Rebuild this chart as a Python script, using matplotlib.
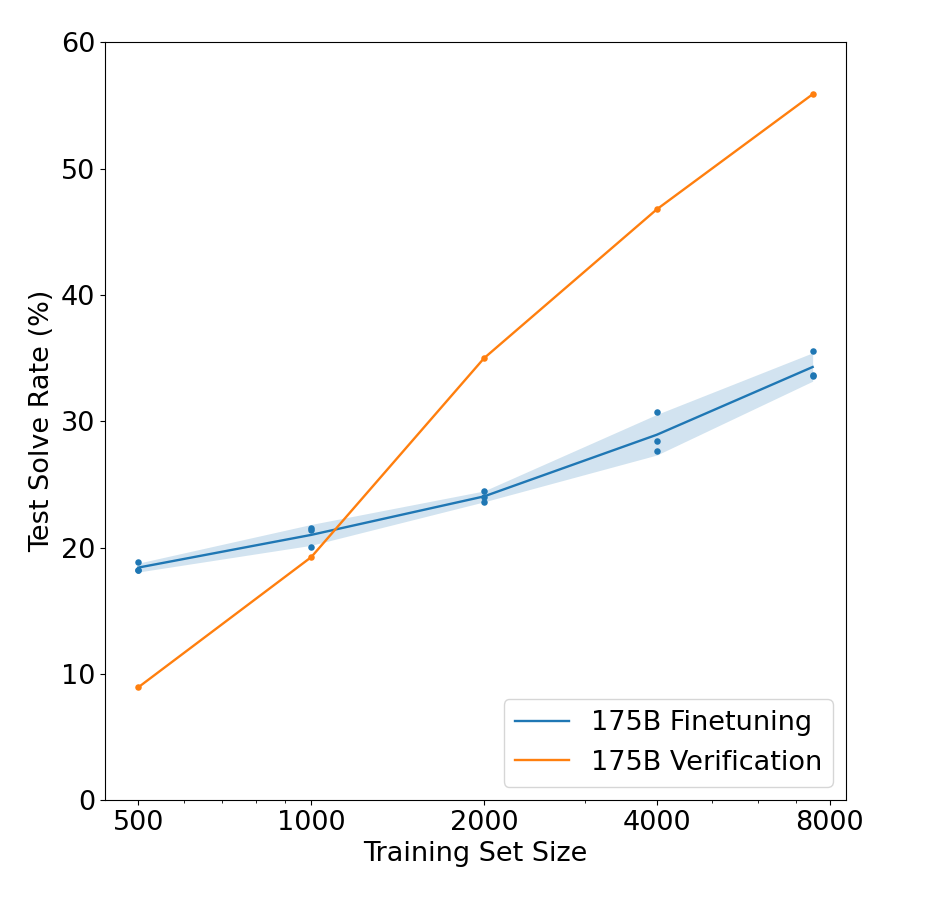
import matplotlib
matplotlib.use("Agg")
import matplotlib.pyplot as plt
from matplotlib.ticker import NullFormatter, ScalarFormatter
import numpy as np


TRAIN_SIZES = [500, 1000, 2000, 4000, 7473]

# three finetuning runs per training set size
FINETUNE_RUNS = [
    [18.82, 18.21, 18.21],
    [21.55, 21.40, 20.05],
    [24.50, 24.00, 23.64],
    [30.72, 28.46, 27.61],
    [35.59, 33.69, 33.60],
]

VERIFICATION = [8.94, 19.24, 34.99, 46.78, 55.89]

X_TICKS = [500, 1000, 2000, 4000, 8000]
Y_TICKS = [0, 10, 20, 30, 40, 50, 60]

BLUE = "#1f77b4"
ORANGE = "#ff7f0e"


def main() -> None:
    plt.rcParams.update({"font.family": ["DejaVu Sans"], "font.size": 19.5})

    fig = plt.figure(figsize=(9.27, 9.01), dpi=100)
    ax = fig.add_axes([0.113, 0.112, 0.8, 0.841])

    runs = np.array(FINETUNE_RUNS)
    mean = runs.mean(axis=1)
    sd = runs.std(axis=1, ddof=1)

    ax.fill_between(TRAIN_SIZES, mean - sd, mean + sd, color=BLUE, alpha=0.2, linewidth=0)
    ax.plot(TRAIN_SIZES, mean, color=BLUE, linewidth=1.7, label="175B Finetuning")
    for size, values in zip(TRAIN_SIZES, FINETUNE_RUNS):
        ax.scatter([size] * len(values), values, color=BLUE, s=22, zorder=3, linewidths=0)

    ax.plot(TRAIN_SIZES, VERIFICATION, color=ORANGE, linewidth=1.7, label="175B Verification")
    ax.scatter(TRAIN_SIZES, VERIFICATION, color=ORANGE, s=22, zorder=3, linewidths=0)

    ax.set_xscale("log")
    ax.set_xticks(X_TICKS)
    ax.xaxis.set_major_formatter(ScalarFormatter())
    ax.xaxis.set_minor_formatter(NullFormatter())
    ax.set_ylim(0, 60)
    ax.set_yticks(Y_TICKS)

    ax.set_xlabel("Training Set Size")
    ax.set_ylabel("Test Solve Rate (%)")
    ax.legend(loc="lower right", fontsize=19.5)

    fig.savefig("out.png", dpi=100)
    plt.close(fig)


if __name__ == "__main__":
    main()
